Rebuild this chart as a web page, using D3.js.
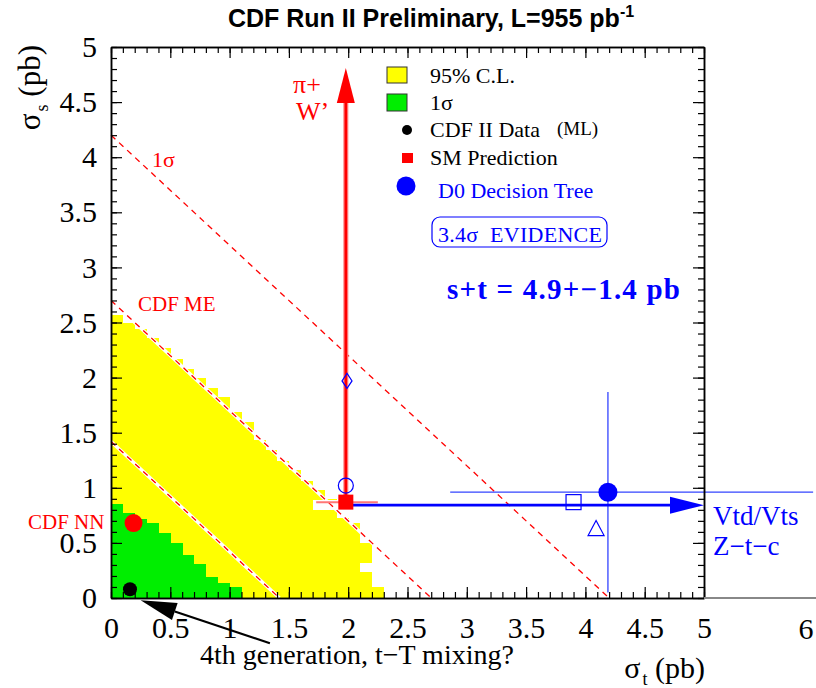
<!DOCTYPE html>
<html>
<head>
<meta charset="utf-8">
<script src="https://cdn.jsdelivr.net/npm/d3@7"></script>
<style>
  body { margin: 0; background: #fff; }
</style>
</head>
<body>
<script>
// bins of sigma_t (0.1 pb wide); value = top of the region in sigma_s
const binWidth = 0.1;
const clTops = [2.57, 2.50, 2.44, 2.36, 2.27, 2.17, 2.08, 2.00, 1.91, 1.82, 1.69, 1.60,
                1.43, 1.34, 1.24, 1.16, 1.06, 0.98, 0.90, 0.73, 0.68, 0.50, 0.10];
// [bin, from, to] empty cells inside the 95% region
const clHoles = [[17, 0.80, 0.89], [18, 0.80, 0.89], [21, 0.24, 0.32]];
const oneSigmaTops = [0.85, 0.77, 0.72, 0.68, 0.59, 0.50, 0.39, 0.31, 0.19, 0.14, 0.10];

// dashed lines s + t = const
const dashedSums = [1.42, 2.7, 4.2];

// points [sigma_t, sigma_s]
const cdfData = [0.16, 0.08];
const cdfNN = [0.19, 0.68];
const smPoint = [1.98, 0.87];
const smErrT = [1.73, 2.25];
const d0Point = [4.19, 0.96];
const d0ErrT = [2.86, 5.92];
const d0ErrS = [0.05, 1.87];
const modelPoints = [
  {shape: "diamond", t: 1.99, s: 1.97},
  {shape: "circle", t: 1.98, s: 1.02},
  {shape: "square", t: 3.90, s: 0.87},
  {shape: "triangle", t: 4.09, s: 0.63}
];
const arrowUpTo = 4.81;     // sigma_s reached by the pi+/W' arrow
const arrowRightTo = 5.0;   // sigma_t reached by the Vtd/Vts arrow
const genArrow = [[1.34, -0.41], [0.25, -0.02]];

const majorTicks = [0, 0.5, 1, 1.5, 2, 2.5, 3, 3.5, 4, 4.5, 5];
const minorTicks = d3.range(0, 51).map(i => i / 10);

const W = 816, H = 688;
const SERIF = "'Liberation Serif', 'Times New Roman', serif";
const x = d3.scaleLinear().domain([0, 5]).range([111, 704]);
const y = d3.scaleLinear().domain([0, 5]).range([598, 47]);

const svg = d3.select("body").append("svg")
    .attr("width", W)
    .attr("height", H)
    .style("font-family", SERIF);

function label(px, py, size, color, str) {
  return svg.append("text")
      .attr("x", px).attr("y", py)
      .style("font-family", SERIF)
      .attr("font-size", size)
      .attr("fill", color)
      .text(str);
}

// 95% C.L. region
svg.append("g").selectAll("rect")
    .data(clTops)
    .join("rect")
    .attr("x", (d, i) => x(i * binWidth))
    .attr("width", (d, i) => x((i + 1) * binWidth) - x(i * binWidth) + 0.4)
    .attr("y", d => y(d))
    .attr("height", d => y(0) - y(d))
    .attr("fill", "#ffff00")
    .attr("shape-rendering", "crispEdges");

svg.append("g").selectAll("rect")
    .data(clHoles)
    .join("rect")
    .attr("x", d => x(d[0] * binWidth))
    .attr("width", d => x((d[0] + 1) * binWidth) - x(d[0] * binWidth) + 0.4)
    .attr("y", d => y(d[2]))
    .attr("height", d => y(d[1]) - y(d[2]))
    .attr("fill", "#fff")
    .attr("shape-rendering", "crispEdges");

// 1 sigma region
svg.append("g").selectAll("rect")
    .data(oneSigmaTops)
    .join("rect")
    .attr("x", (d, i) => x(i * binWidth))
    .attr("width", (d, i) => x((i + 1) * binWidth) - x(i * binWidth) + 0.4)
    .attr("y", d => y(d))
    .attr("height", d => y(0) - y(d))
    .attr("fill", "#00ee00")
    .attr("shape-rendering", "crispEdges");

// dashed s+t lines (white under red dashes)
const dl = svg.append("g");
dashedSums.forEach(c => {
  dl.append("line")
      .attr("x1", x(0)).attr("y1", y(c))
      .attr("x2", x(c)).attr("y2", y(0))
      .attr("stroke", "#fff").attr("stroke-width", 3.5);
  dl.append("line")
      .attr("x1", x(0)).attr("y1", y(c))
      .attr("x2", x(c)).attr("y2", y(0))
      .attr("stroke", "#ff0000").attr("stroke-width", 1.3)
      .attr("stroke-dasharray", "6,5");
});

// D0 error bars
svg.append("line")
    .attr("x1", x(d0ErrT[0])).attr("x2", x(d0ErrT[1]))
    .attr("y1", y(d0Point[1])).attr("y2", y(d0Point[1]))
    .attr("stroke", "#3344ff").attr("stroke-width", 1.3);
svg.append("line")
    .attr("x1", x(d0Point[0])).attr("x2", x(d0Point[0]))
    .attr("y1", y(d0ErrS[0])).attr("y2", y(d0ErrS[1]))
    .attr("stroke", "#3344ff").attr("stroke-width", 1.3);

// SM horizontal error
svg.append("line")
    .attr("x1", x(smErrT[0])).attr("x2", x(smErrT[1]))
    .attr("y1", y(smPoint[1])).attr("y2", y(smPoint[1]))
    .attr("stroke", "#ff7777").attr("stroke-width", 2);

// red arrow up (pi+, W')
const upTip = y(arrowUpTo);
svg.append("line")
    .attr("x1", x(smPoint[0])).attr("x2", x(smPoint[0]))
    .attr("y1", y(smPoint[1])).attr("y2", upTip + 30)
    .attr("stroke", "#ff8080").attr("stroke-width", 5);
svg.append("line")
    .attr("x1", x(smPoint[0])).attr("x2", x(smPoint[0]))
    .attr("y1", y(smPoint[1])).attr("y2", upTip + 30)
    .attr("stroke", "#ff0000").attr("stroke-width", 2.6);
svg.append("path")
    .attr("d", `M${x(smPoint[0])},${upTip} l9,35 l-18,0 Z`)
    .attr("fill", "#ff0000");

// blue arrow right (Vtd/Vts, Z-t-c)
const rightTip = x(arrowRightTo);
svg.append("line")
    .attr("x1", x(smPoint[0]) + 4).attr("x2", rightTip - 30)
    .attr("y1", y(smPoint[1]) + 3).attr("y2", y(smPoint[1]) + 3)
    .attr("stroke", "#0000ff").attr("stroke-width", 2.8);
svg.append("path")
    .attr("d", `M${rightTip},${y(smPoint[1]) + 3} l-34,-8.5 l0,17 Z`)
    .attr("fill", "#0000ff");

// open model markers
const mk = svg.append("g").attr("fill", "none").attr("stroke", "#0000ff").attr("stroke-width", 1.2);
modelPoints.forEach(p => {
  const cx = x(p.t), cy = y(p.s);
  if (p.shape === "diamond") {
    mk.append("path").attr("d", `M${cx},${cy - 7.5} L${cx + 5},${cy} L${cx},${cy + 7.5} L${cx - 5},${cy} Z`);
  } else if (p.shape === "circle") {
    mk.append("circle").attr("cx", cx).attr("cy", cy).attr("r", 7.5);
  } else if (p.shape === "square") {
    mk.append("rect").attr("x", cx - 7.5).attr("y", cy - 7.5).attr("width", 15).attr("height", 15);
  } else {
    mk.append("path").attr("d", `M${cx},${cy - 8} L${cx + 8},${cy + 7} L${cx - 8},${cy + 7} Z`);
  }
});

// filled points
svg.append("rect")
    .attr("x", x(smPoint[0]) - 7.5).attr("y", y(smPoint[1]) - 7.5)
    .attr("width", 15).attr("height", 15)
    .attr("fill", "#ff0000");
svg.append("circle").attr("cx", x(d0Point[0])).attr("cy", y(d0Point[1])).attr("r", 9.5).attr("fill", "#0000ff");
svg.append("circle").attr("cx", x(cdfNN[0])).attr("cy", y(cdfNN[1])).attr("r", 9).attr("fill", "#ff0000");
svg.append("circle").attr("cx", x(cdfData[0])).attr("cy", y(cdfData[1])).attr("r", 7).attr("fill", "#000");

// 4th generation arrow
const ga0 = [x(genArrow[0][0]), y(genArrow[0][1])];
const ga1 = [x(genArrow[1][0]), y(genArrow[1][1])];
const ang = Math.atan2(ga1[1] - ga0[1], ga1[0] - ga0[0]);
const hl = 36, hw = 9;
const bx = ga1[0] - hl * Math.cos(ang), by = ga1[1] - hl * Math.sin(ang);
svg.append("line")
    .attr("x1", ga0[0]).attr("y1", ga0[1]).attr("x2", bx).attr("y2", by)
    .attr("stroke", "#000").attr("stroke-width", 2.2);
svg.append("path")
    .attr("d", `M${ga1[0]},${ga1[1]} L${bx + hw * Math.sin(ang)},${by - hw * Math.cos(ang)} L${bx - hw * Math.sin(ang)},${by + hw * Math.cos(ang)} Z`)
    .attr("fill", "#000");

// axes with inside ticks
function styleAxis(g) {
  g.attr("font-family", null);
  g.selectAll(".domain").attr("stroke", "#000").attr("stroke-width", 1.5);
  g.selectAll(".tick line").attr("stroke", "#000").attr("stroke-width", 1.2);
  g.selectAll(".tick text")
      .style("font-family", SERIF)
      .attr("font-size", 30)
      .attr("fill", "#000");
}
const fmt = d => String(d);
svg.append("g").attr("transform", `translate(0,${y(0)})`)
    .call(d3.axisBottom(x).tickValues(minorTicks).tickSize(-6).tickSizeOuter(0).tickFormat(""))
    .call(styleAxis);
svg.append("g").attr("transform", `translate(0,${y(0)})`)
    .call(d3.axisBottom(x).tickValues(majorTicks).tickSize(-11).tickSizeOuter(0).tickPadding(19).tickFormat(fmt))
    .call(styleAxis);
svg.append("g").attr("transform", `translate(0,${y(5)})`)
    .call(d3.axisTop(x).tickValues(minorTicks).tickSize(-6).tickSizeOuter(0).tickFormat(""))
    .call(styleAxis);
svg.append("g").attr("transform", `translate(0,${y(5)})`)
    .call(d3.axisTop(x).tickValues(majorTicks).tickSize(-11).tickSizeOuter(0).tickFormat(""))
    .call(styleAxis);
svg.append("g").attr("transform", `translate(${x(0)},0)`)
    .call(d3.axisLeft(y).tickValues(minorTicks).tickSize(-6).tickSizeOuter(0).tickFormat(""))
    .call(styleAxis);
svg.append("g").attr("transform", `translate(${x(0)},0)`)
    .call(d3.axisLeft(y).tickValues(majorTicks).tickSize(-11).tickSizeOuter(0).tickPadding(14).tickFormat(fmt))
    .call(styleAxis);
svg.append("g").attr("transform", `translate(${x(5)},0)`)
    .call(d3.axisRight(y).tickValues(minorTicks).tickSize(-6).tickSizeOuter(0).tickFormat(""))
    .call(styleAxis);
svg.append("g").attr("transform", `translate(${x(5)},0)`)
    .call(d3.axisRight(y).tickValues(majorTicks).tickSize(-11).tickSizeOuter(0).tickFormat(""))
    .call(styleAxis);

// grey extension of the t axis up to 6
svg.append("line")
    .attr("x1", x(5)).attr("x2", W).attr("y1", y(0)).attr("y2", y(0))
    .attr("stroke", "#888").attr("stroke-width", 2);
label(806, 639, 30, "#000", "6").attr("text-anchor", "middle");

// title
const title = svg.append("text")
    .attr("x", 431).attr("y", 27).attr("text-anchor", "middle")
    .style("font-family", "'Liberation Sans', Arial, sans-serif")
    .attr("font-weight", "bold").attr("font-size", 25);
title.append("tspan").text("CDF Run II Preliminary, L=955 pb");
title.append("tspan").attr("font-size", 16).attr("dy", -10).text("-1");

// axis titles
const yl = svg.append("text")
    .attr("transform", "translate(40,45) rotate(-90)")
    .style("font-family", SERIF)
    .attr("text-anchor", "end").attr("font-size", 31);
yl.append("tspan").text("σ");
yl.append("tspan").attr("font-size", 18).attr("dy", 8).attr("dx", 2).text("s");
yl.append("tspan").attr("dy", -8).text("\u00a0(pb)");

const xl = svg.append("text")
    .attr("x", 705).attr("y", 678)
    .style("font-family", SERIF)
    .attr("text-anchor", "end").attr("font-size", 30);
xl.append("tspan").text("σ");
xl.append("tspan").attr("font-size", 18).attr("dy", 7).attr("dx", 2).text("t");
xl.append("tspan").attr("dy", -7).text("\u00a0(pb)");

label(200, 664, 28, "#000", "4th generation, t\u2212T mixing?");

// annotations
label(152, 167, 22, "#ff0000", "1σ");
label(138, 311, 21, "#ff0000", "CDF ME");
label(28, 529, 21, "#ff0000", "CDF NN");
label(293, 93, 26, "#ff0000", "π+");
label(296, 120, 26, "#ff0000", "W\u2019");
label(713, 525, 27, "#0000ff", "Vtd/Vts");
label(713, 555, 27, "#0000ff", "Z\u2212t\u2212c");
label(447, 299, 29, "#0000ff", "s+t = 4.9+\u22121.4 pb")
    .attr("font-weight", "bold")
    .attr("textLength", 233).attr("lengthAdjust", "spacing");

// legend
const lg = svg.append("g");
lg.append("rect").attr("x", 387).attr("y", 67).attr("width", 20).attr("height", 16)
    .attr("fill", "#ffff00").attr("stroke", "#333").attr("stroke-width", 1);
lg.append("rect").attr("x", 387).attr("y", 94).attr("width", 20).attr("height", 17)
    .attr("fill", "#00ee00").attr("stroke", "#333").attr("stroke-width", 1);
lg.append("circle").attr("cx", 407).attr("cy", 130).attr("r", 5).attr("fill", "#000");
lg.append("rect").attr("x", 402).attr("y", 153).attr("width", 11).attr("height", 10).attr("fill", "#ff0000");
lg.append("circle").attr("cx", 406).attr("cy", 186).attr("r", 9.5).attr("fill", "#0000ff");
label(430, 83, 22, "#000", "95% C.L.");
label(430, 110, 22, "#000", "1σ");
label(430, 137, 22, "#000", "CDF II Data");
label(557, 135, 19, "#000", "(ML)");
label(430, 165, 22, "#000", "SM Prediction");
label(438, 198, 22, "#0000ff", "D0 Decision Tree");
lg.append("rect").attr("x", 432).attr("y", 217).attr("width", 175).attr("height", 30).attr("rx", 8)
    .attr("fill", "none").attr("stroke", "#0000ff").attr("stroke-width", 1.2);
label(438, 242, 22, "#0000ff", "3.4σ\u00a0\u00a0EVIDENCE")
    .attr("textLength", 164).attr("lengthAdjust", "spacing");
</script>
</body>
</html>
